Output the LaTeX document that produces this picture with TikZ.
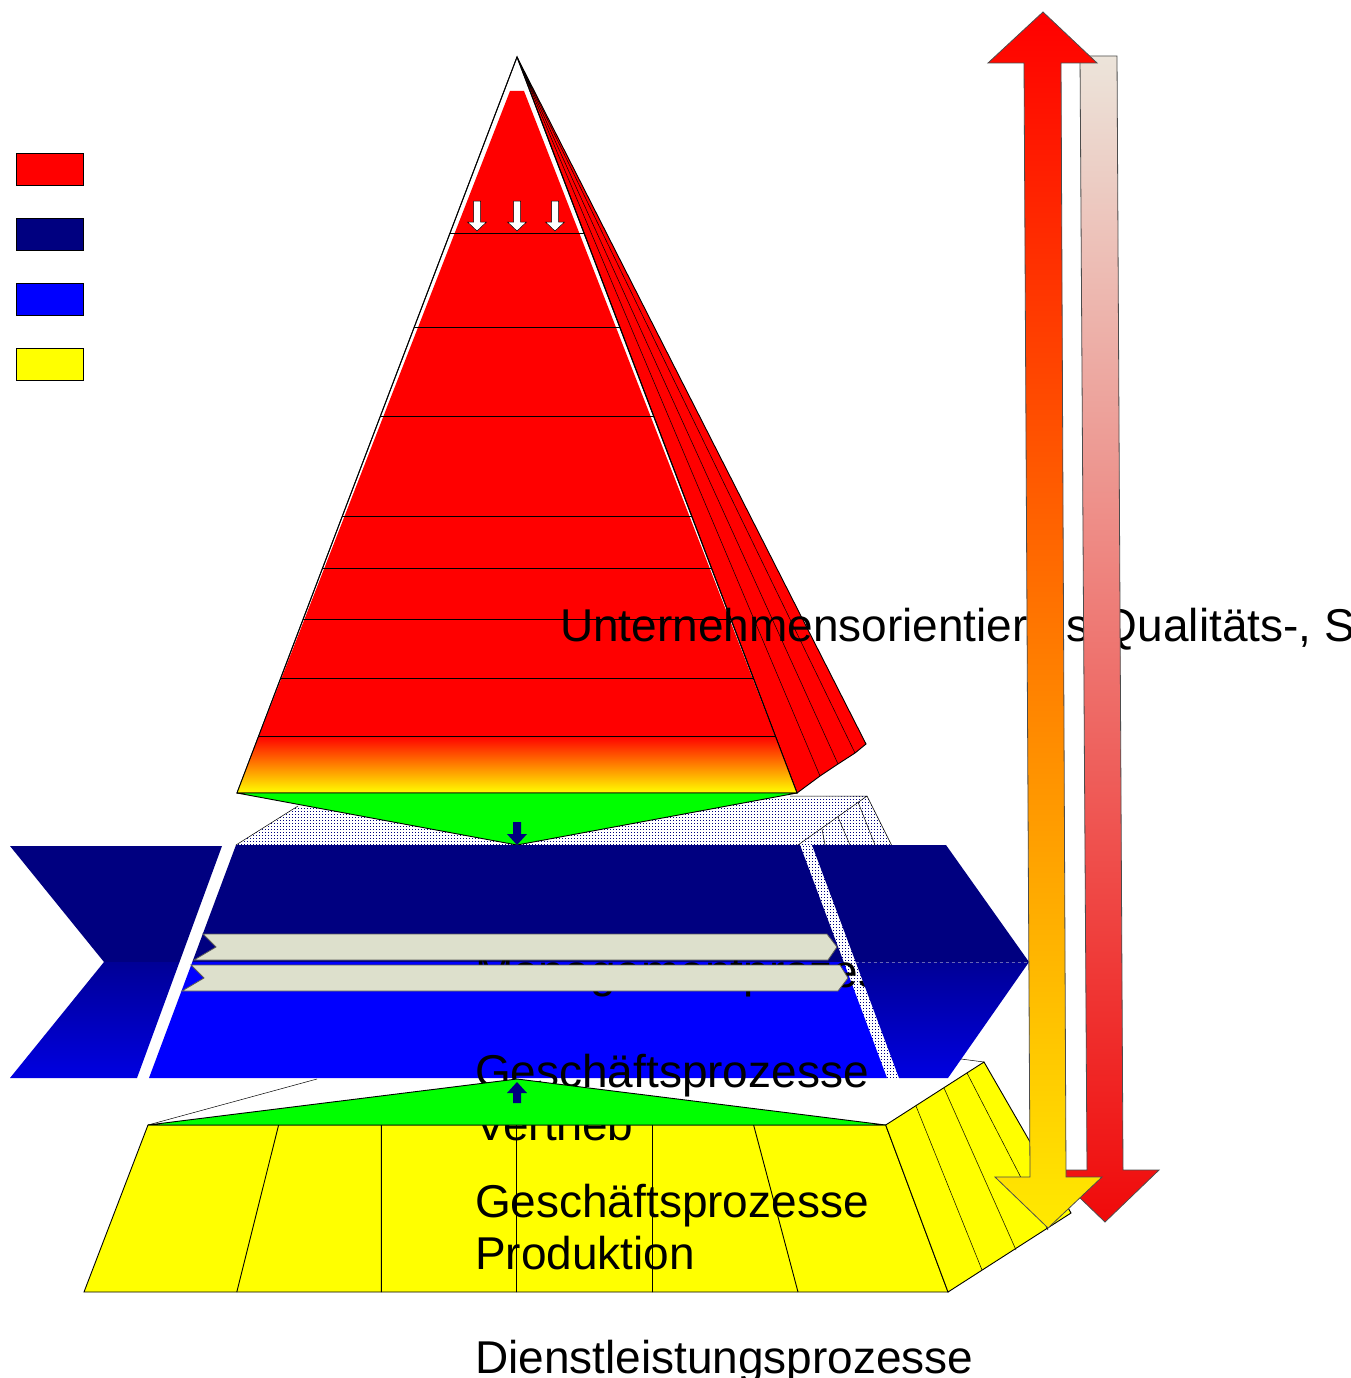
\documentclass[tikz,border=0pt]{standalone}
\usepackage{fontspec}
\setmainfont{Liberation Sans}
\usetikzlibrary{patterns}
\pgfdeclarepatternformonly{navydots}{\pgfpointorigin}{\pgfpoint{2.5pt}{2.5pt}}{\pgfpoint{2.5pt}{2.5pt}}{%
  \pgfpathrectangle{\pgfpointorigin}{\pgfpoint{1.1pt}{1.1pt}}\pgfusepath{fill}}
\definecolor{navyc}{RGB}{0,0,128}
\definecolor{bluec}{RGB}{0,0,255}
\definecolor{greenc}{RGB}{0,255,0}
\definecolor{yellowc}{RGB}{255,255,0}
\definecolor{redc}{RGB}{255,0,0}
\definecolor{orangec}{RGB}{255,128,0}
\definecolor{ylwarrow}{RGB}{255,234,0}
\definecolor{beigec}{RGB}{236,228,218}
\definecolor{pinkc}{RGB}{240,130,120}
\definecolor{darkredc}{RGB}{240,10,10}
\definecolor{lightarrow}{RGB}{221,224,204}
\definecolor{upblue}{RGB}{0,0,150}
\definecolor{lowblue}{RGB}{0,0,225}
\begin{document}
\begin{tikzpicture}[x=1pt,y=-1pt,line join=miter,
  edge/.style={draw=black,line width=0.9pt},
  thinedge/.style={draw=black,line width=0.5pt},
  lbl/.style={anchor=base west,inner sep=0pt,outer sep=0pt,font=\fontsize{46}{52}\selectfont},
  legendbox/.style={draw=black,line width=0.8pt},
  hatch/.style={pattern=navydots,pattern color=navyc},
  lightarr/.style={fill=lightarrow,draw=black!65,line width=0.8pt},
  smallarr/.style={fill=navyc}]
\fill[white] (0,0) rectangle (1350,1378);
\useasboundingbox (0,0) rectangle (1350,1378);

% legend
\draw[legendbox,fill=redc] (16,153) rectangle (83,185);
\draw[legendbox,fill=navyc] (16,218) rectangle (83,250);
\draw[legendbox,fill=bluec] (16,283) rectangle (83,315);
\draw[legendbox,fill=yellowc] (16,348) rectangle (83,380);

% pyramid side facets
\filldraw[fill=redc,edge] (517,57) -- (797,793) -- (820,776) -- (838,764) -- (855,753) -- (866,744) -- cycle;
\draw[thinedge] (517,57) -- (820,776) (517,57) -- (838,764) (517,57) -- (855,753);
% pyramid front
\filldraw[fill=white,edge] (517,57) -- (797,793) -- (237,793) -- cycle;
\fill[redc] (510,91) -- (524,91) -- (775,736) -- (259,736) -- cycle;
\shade[top color=redc,middle color=orangec,bottom color=yellowc] (259,736) -- (775,736) -- (797,793) -- (237,793) -- cycle;
\draw[edge] (517,57) -- (797,793) -- (237,793) -- cycle;
\foreach \yy in {233,327,416,516,568,619,678,736}
  \draw[edge] ({517-0.380435*(\yy-57)},\yy) -- ({517+0.380435*(\yy-57)},\yy);
\foreach \cx in {477,517,555}
  \filldraw[fill=white,draw=black,line width=0.5pt] ({\cx-3.5},201) -- ({\cx+3.5},201) -- ({\cx+3.5},222) -- ({\cx+9.5},222) -- (\cx,231) -- ({\cx-9.5},222) -- ({\cx-3.5},222) -- cycle;

\node[lbl] (quality) at (560,641) {Unternehmensorientiertes Qualitäts-, S};

% hatched top face under the pyramid
\fill[white] (236,845) -- (298,806) -- (867,796) -- (892,846) -- cycle;
\fill[hatch] (236,845) -- (298,806) -- (867,796) -- (892,846) -- cycle;
\draw[thinedge] (236,845) -- (298,806);
\draw[thinedge] (790,796) -- (867,796) -- (892,846);
\draw[thinedge] (867,796) -- (798,845);
\draw[thinedge] (858,802) -- (875,845) (838,817) -- (850,845) (822,829) -- (825,845);

% green connector triangle top
\filldraw[fill=greenc,edge] (237,793) -- (797,793) -- (517,845) -- cycle;
\fill[smallarr] (513,822) -- (521,822) -- (521,834) -- (527,834) -- (517,845) -- (507,834) -- (513,834) -- cycle;

% hatched strip
\fill[white] (798,845) -- (812,845) -- (899,1078) -- (887,1078) -- cycle;
\fill[hatch] (798,845) -- (812,845) -- (899,1078) -- (887,1078) -- cycle;

% band
\fill[navyc] (236,845) -- (800,845) -- (843.7,962) -- (192.3,962) -- cycle;
\fill[bluec] (192.3,962) -- (843.7,962) -- (887,1078) -- (149,1078) -- cycle;
\fill[navyc] (10,846) -- (222,846) -- (179.5,962) -- (104,962) -- cycle;
\shade[top color=upblue,bottom color=lowblue] (104,962) -- (179.5,962) -- (137,1078) -- (10,1078) -- cycle;

\node[lbl] (mgmt) at (475,987) {Managementprozesse};

\fill[navyc] (812,845) -- (946,845) -- (1029,962) -- (855.7,962) -- cycle;
\shade[top color=upblue,bottom color=lowblue] (855.7,962) -- (1029,962) -- (948,1078) -- (899,1078) -- cycle;
\draw[line width=0.5pt,draw=navyc!60!white,dashed] (855.7,962) -- (1029,962);

% light arrows in band
\filldraw[lightarr] (203,934) -- (827,934) -- (837,947) -- (828,960) -- (194,960) -- (216,947) -- cycle;
\filldraw[lightarr] (191,965) -- (840,965) -- (848,978) -- (838,991) -- (182,991) -- (204,978) -- cycle;

% base block
\draw[thinedge] (148,1125) -- (317,1079);
\draw[thinedge] (961,1059) -- (984,1062);
\filldraw[fill=yellowc,edge] (148,1125) -- (885.7,1125) -- (948,1292) -- (84,1292) -- cycle;
\filldraw[fill=yellowc,edge] (885.7,1125) -- (984,1062) -- (1071,1213) -- (948,1292) -- cycle;
\draw[thinedge] (916,1106) -- (982,1270) (944,1088) -- (1016,1250) (967,1073) -- (1048,1230);

\node[lbl] (gpv) at (475,1087) {Geschäftsprozesse};
\node[lbl] (vertrieb) at (475,1140) {Vertrieb};
\node[lbl] (gpp) at (475,1217) {Geschäftsprozesse};
\node[lbl] (produktion) at (475,1269) {Produktion};
\node[lbl] (dienst) at (475,1373) {Dienstleistungsprozesse};

\draw[edge] (278.6,1125) -- (236.8,1292) (381.4,1125) -- (381.4,1292) (516.5,1125) -- (516.5,1292) (652.5,1125) -- (652.5,1292) (753.6,1125) -- (798,1292);

% green connector triangle bottom
\filldraw[fill=greenc,edge] (148,1125) -- (885.7,1125) -- (517,1079) -- cycle;
\fill[smallarr] (513,1103) -- (521,1103) -- (521,1093) -- (527,1093) -- (517,1082) -- (507,1093) -- (513,1093) -- cycle;

% vertical arrows at the right
\shadedraw[top color=beigec,middle color=pinkc,bottom color=darkredc,draw=black!70,line width=0.8pt]
  (1080,56) -- (1117,56) -- (1123,1170) -- (1159,1170) -- (1105,1222) -- (1051,1170) -- (1087,1170) -- cycle;
\shadedraw[top color=redc,middle color=orangec,bottom color=ylwarrow,draw=black!70,line width=0.8pt]
  (1043,12) -- (1097,63) -- (1061,63) -- (1066,1177) -- (1102,1177) -- (1048,1228) -- (995,1177) -- (1030,1177) -- (1024,63) -- (988,63) -- cycle;
\end{tikzpicture}
\end{document}
